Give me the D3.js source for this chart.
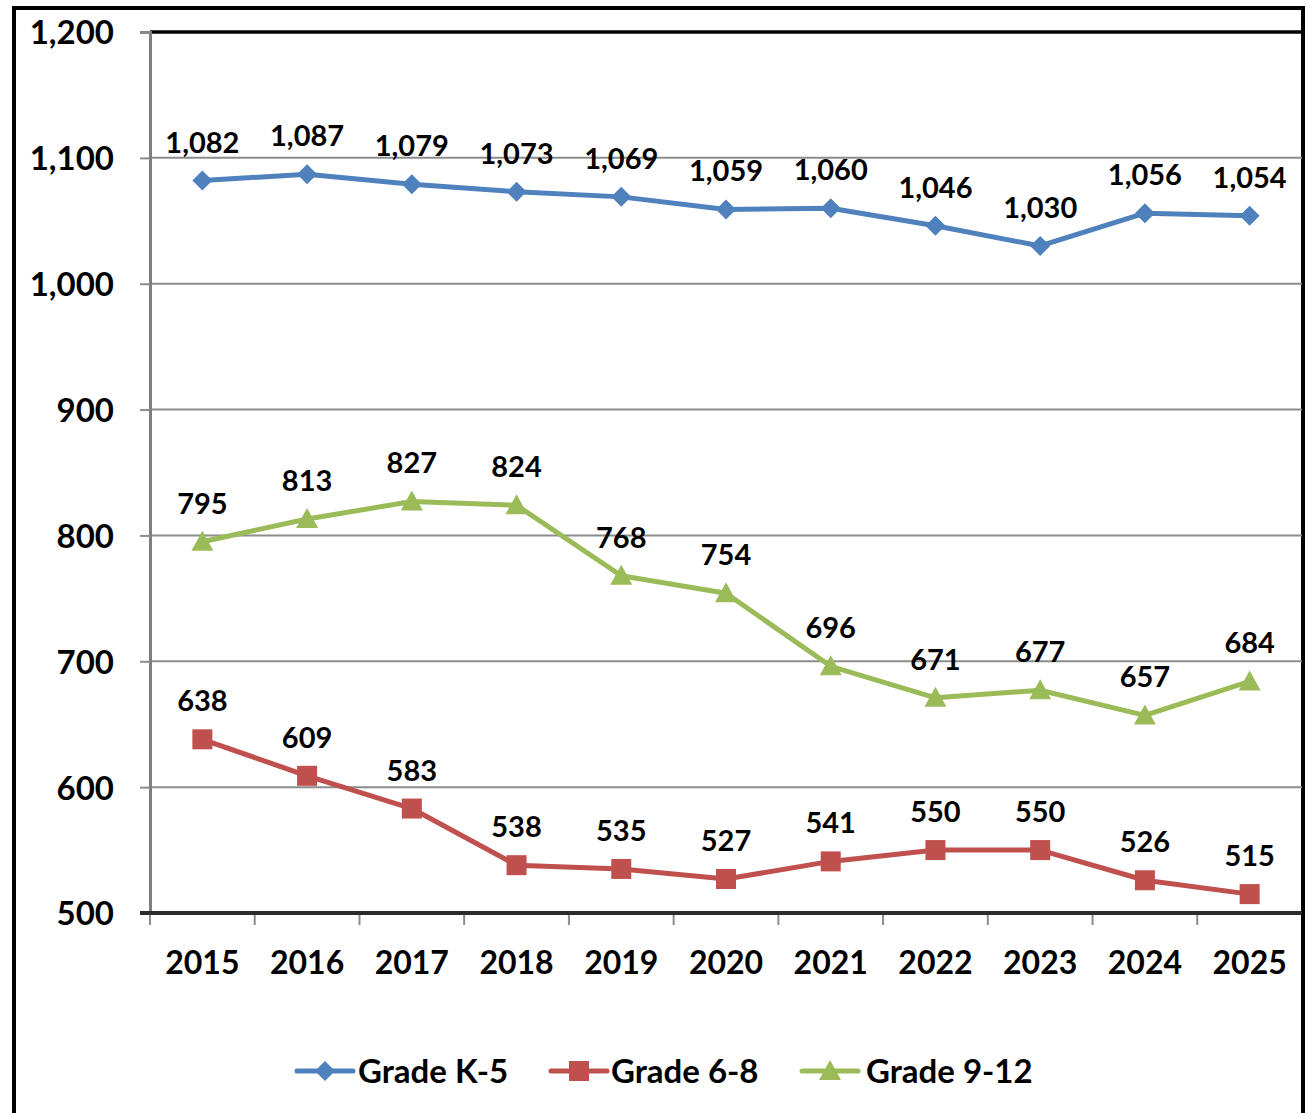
<!DOCTYPE html>
<html>
<head>
<meta charset="utf-8">
<script src="https://cdn.jsdelivr.net/npm/d3@7"></script>
<style>
  html, body { margin: 0; padding: 0; background: #fff; }
  svg { display: block; font-family: Lato, "Open Sans", sans-serif; font-weight: bold; }
</style>
</head>
<body>
<svg id="chart" width="1310" height="1113"></svg>
<script>
const years = ["2015","2016","2017","2018","2019","2020","2021","2022","2023","2024","2025"];
const gradeK5 = [1082,1087,1079,1073,1069,1059,1060,1046,1030,1056,1054];
const grade68 = [638,609,583,538,535,527,541,550,550,526,515];
const grade912 = [795,813,827,824,768,754,696,671,677,657,684];
const yTicks = [500,600,700,800,900,1000,1100,1200];
const seriesNames = ["Grade K-5","Grade 6-8","Grade 9-12"];

const series = [
  {name: seriesNames[0], values: gradeK5, color: "#4F81BD", shape: "diamond"},
  {name: seriesNames[1], values: grade68, color: "#C0504D", shape: "square"},
  {name: seriesNames[2], values: grade912, color: "#9BBB59", shape: "triangle"}
];

const svg = d3.select("#chart");
const plot = {left: 150, right: 1302, top: 32, bottom: 913};

// outer frame
svg.append("rect").attr("x", 14).attr("y", 8).attr("width", 1289).attr("height", 1130)
  .attr("fill", "none").attr("stroke", "#000").attr("stroke-width", 4);

const x = d3.scaleBand().domain(years).range([plot.left, plot.right]).padding(0);
const y = d3.scaleLinear().domain([500, 1200]).range([plot.bottom, plot.top]);

// gridlines
svg.append("g").selectAll("line").data(yTicks.filter(t => t > 500 && t < 1200)).join("line")
  .attr("x1", plot.left).attr("x2", plot.right)
  .attr("y1", d => y(d)).attr("y2", d => y(d))
  .attr("stroke", "#8c8c8c").attr("stroke-width", 2);

// plot top border
svg.append("line").attr("x1", plot.left).attr("x2", plot.right + 2)
  .attr("y1", plot.top).attr("y2", plot.top).attr("stroke", "#000").attr("stroke-width", 3.5);

// y axis
const yAxis = d3.axisLeft(y).tickValues(yTicks).tickSize(10).tickPadding(26)
  .tickFormat(d3.format(","));
const gy = svg.append("g").attr("transform", `translate(${plot.left},0)`).call(yAxis);
gy.select(".domain").attr("stroke", "#7f7f7f").attr("stroke-width", 3);
gy.selectAll(".tick line").attr("stroke", "#8c8c8c").attr("stroke-width", 2);
gy.selectAll(".tick text").attr("font-size", 33).attr("font-family", "Lato, sans-serif")
  .attr("font-weight", "bold").attr("fill", "#000").attr("dy", "0.36em");

// x axis
const xAxis = d3.axisBottom(x).tickSize(0).tickPadding(0);
const gx = svg.append("g").attr("transform", `translate(0,${plot.bottom})`).call(xAxis);
gx.select(".domain").remove();
gx.selectAll(".tick text").attr("font-size", 32).attr("font-family", "Lato, sans-serif")
  .attr("font-weight", "bold").attr("fill", "#000").attr("y", 49).attr("dy", "0.36em");
// boundary ticks
const bounds = years.map(d => x(d)).concat([x(years[years.length-1]) + x.bandwidth()]);
svg.append("g").selectAll("line").data(bounds.slice(0, -1)).join("line")
  .attr("x1", d => d).attr("x2", d => d)
  .attr("y1", plot.bottom).attr("y2", plot.bottom + 12)
  .attr("stroke", "#8c8c8c").attr("stroke-width", 2);
svg.append("line").attr("x1", plot.left - 10).attr("x2", plot.right)
  .attr("y1", plot.bottom).attr("y2", plot.bottom)
  .attr("stroke", "#2b2b2b").attr("stroke-width", 4);

const cx = d => x(d) + x.bandwidth() / 2;

function drawMarker(g, shape, color, px, py) {
  if (shape === "diamond") {
    g.append("path").attr("d", `M${px},${py-10}L${px+10},${py}L${px},${py+10}L${px-10},${py}Z`).attr("fill", color);
  } else if (shape === "square") {
    g.append("rect").attr("x", px-10).attr("y", py-10).attr("width", 20).attr("height", 20).attr("fill", color);
  } else {
    g.append("path").attr("d", `M${px},${py-11}L${px+11},${py+9}L${px-11},${py+9}Z`).attr("fill", color);
  }
}

const line = d3.line().x((d, i) => cx(years[i])).y(d => y(d));
series.forEach(s => {
  const g = svg.append("g");
  g.append("path").attr("d", line(s.values)).attr("fill", "none")
    .attr("stroke", s.color).attr("stroke-width", 5).attr("stroke-linejoin", "round");
  s.values.forEach((v, i) => drawMarker(g, s.shape, s.color, cx(years[i]), y(v)));
  g.selectAll("text").data(s.values).join("text")
    .attr("x", (d, i) => cx(years[i])).attr("y", d => y(d) - 28)
    .attr("text-anchor", "middle").attr("font-size", 29).attr("fill", "#000")
    .text(d => d3.format(",")(d));
});

// legend
const legendItems = [
  {lx: 297, tx: 358},
  {lx: 551, tx: 611},
  {lx: 802, tx: 866}
];
const ly = 1071;
series.forEach((s, i) => {
  const g = svg.append("g");
  const L = legendItems[i];
  g.append("line").attr("x1", L.lx).attr("x2", L.lx + 56).attr("y1", ly).attr("y2", ly)
    .attr("stroke", s.color).attr("stroke-width", 5).attr("stroke-linecap", "round");
  drawMarker(g, s.shape, s.color, L.lx + 28, ly);
  g.append("text").attr("x", L.tx).attr("y", ly).attr("dy", "0.36em")
    .attr("font-size", 33).attr("fill", "#000").text(s.name);
});
</script>
</body>
</html>
